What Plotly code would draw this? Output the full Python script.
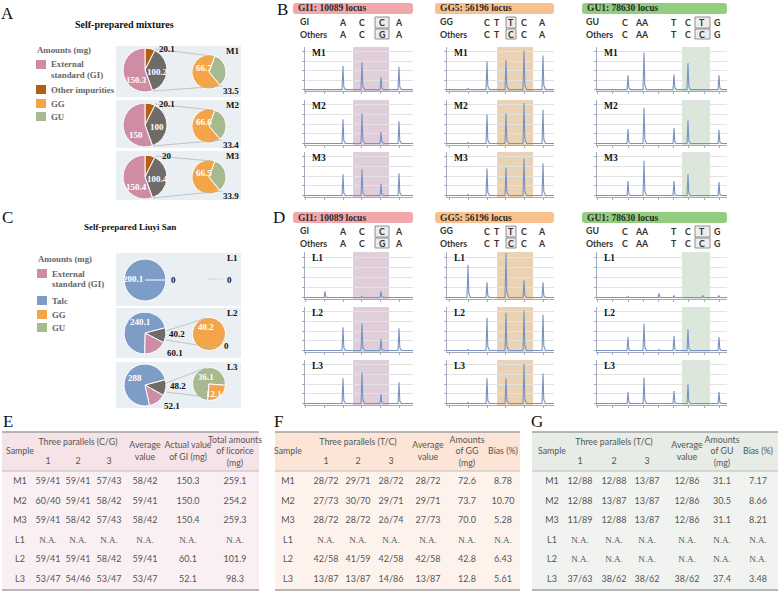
import plotly.graph_objects as go

W, H = 779, 591
SERIF = "Liberation Serif"
SANS = "Lato"

def px(x):
    return x / W

def py(y):
    return 1 - y / H

# ======================= DATA =======================
# Panel A: self-prepared mixtures, amounts (mg)
mix_names = ["M1", "M2", "M3"]
mix_gi = [150.3, 150, 150.4]
mix_licorice = [100.2, 100, 100.4]
mix_impurities = [20.1, 20.1, 20]
mix_gg = [66.7, 66.6, 66.5]
mix_gu = [33.5, 33.4, 33.9]

# Panel C: self-prepared Liuyi San, amounts (mg)
ly_names = ["L1", "L2", "L3"]
ly_talc = [200.1, 240.1, 288]
ly_licorice = [0, 40.2, 48.2]
ly_gi = [0, 60.1, 52.1]
ly_gg = [0, 40.2, 12.1]
ly_gu = [0, 0, 36.1]

# Panels B / D: chromatogram peaks (scan position, peak height RFU)
gi1_pos = [20, 38, 57, 76, 94]
gi1_heights = {
    "M1": [0, 2500, 2900, 1300, 2400],
    "M2": [0, 2500, 3100, 1200, 2300],
    "M3": [0, 2200, 2700, 1200, 2300],
    "L1": [600, 0, 100, 600, 0],
    "L2": [0, 2400, 2800, 1200, 2300],
    "L3": [0, 2600, 3200, 1000, 2200],
}
gg5_pos = [21, 40, 59, 77, 96]
gg5_heights = {
    "M1": [100, 3000, 3100, 4100, 3600],
    "M2": [100, 3000, 3100, 4200, 3500],
    "M3": [100, 2800, 2900, 3800, 3300],
    "L1": [3200, 1500, 4400, 1700, 1500],
    "L2": [100, 3400, 3900, 4100, 3700],
    "L3": [100, 2600, 2600, 4100, 3100],
}
gu1_pos = [31, 47, 62, 77, 91, 106, 122]
gu1_heights = {
    "M1": [1500, 3900, 0, 1600, 2800, 0, 1500],
    "M2": [1500, 3700, 0, 1600, 2400, 0, 1400],
    "M3": [1500, 3600, 0, 1500, 2200, 0, 1400],
    "L1": [100, 0, 400, 200, 0, 200, 200],
    "L2": [1400, 2800, 100, 1500, 2200, 0, 1400],
    "L3": [1200, 2700, 0, 1300, 2000, 0, 1200],
}
gi1_window = [48, 84]
gg5_window = [50, 86]
gu1_window = [85, 113]

gi1_seq_ref = ["A", "C", "C", "A"]
gi1_seq_oth = ["A", "C", "G", "A"]
gg5_seq_ref = ["C", "T", "T", "C", "A"]
gg5_seq_oth = ["C", "T", "C", "C", "A"]
gu1_seq_ref = ["C", "AA", "T", "C", "T", "G"]
gu1_seq_oth = ["C", "AA", "T", "C", "C", "G"]

# Tables E / F / G
table_samples = ["M1", "M2", "M3", "L1", "L2", "L3"]
e_p1 = ["59/41", "60/40", "59/41", "N.A.", "59/41", "53/47"]
e_p2 = ["59/41", "59/41", "58/42", "N.A.", "59/41", "54/46"]
e_p3 = ["57/43", "58/42", "57/43", "N.A.", "58/42", "53/47"]
e_avg = ["58/42", "59/41", "58/42", "N.A.", "59/41", "53/47"]
e_gi = ["150.3", "150.0", "150.4", "N.A.", "60.1", "52.1"]
e_total = ["259.1", "254.2", "259.3", "N.A.", "101.9", "98.3"]

f_p1 = ["28/72", "27/73", "28/72", "N.A.", "42/58", "13/87"]
f_p2 = ["29/71", "30/70", "28/72", "N.A.", "41/59", "13/87"]
f_p3 = ["28/72", "29/71", "26/74", "N.A.", "42/58", "14/86"]
f_avg = ["28/72", "29/71", "27/73", "N.A.", "42/58", "13/87"]
f_gg = ["72.6", "73.7", "70.0", "N.A.", "42.8", "12.8"]
f_bias = ["8.78", "10.70", "5.28", "N.A.", "6.43", "5.61"]

g_p1 = ["12/88", "12/88", "11/89", "N.A.", "N.A.", "37/63"]
g_p2 = ["12/88", "13/87", "12/88", "N.A.", "N.A.", "38/62"]
g_p3 = ["13/87", "13/87", "13/87", "N.A.", "N.A.", "38/62"]
g_avg = ["12/86", "12/86", "12/86", "N.A.", "N.A.", "38/62"]
g_gu = ["31.1", "30.5", "31.1", "N.A.", "N.A.", "37.4"]
g_bias = ["7.17", "8.66", "8.21", "N.A.", "N.A.", "3.48"]

# ======================= STYLE =======================
PINK = "#CE8CA5"
BROWN = "#B35E14"
GRAY = "#6F6B69"
ORANGE = "#F4A54A"
GREEN = "#A7B98F"
BLUE = "#7D9DC6"
BOXBG = "#EAEFF3"
TRACE = "#7893C2"
AXC = "#A3ABBA"

fig = go.Figure()
shapes, annotations, lay = [], [], {}


def txt(x, y, s, size=9, color="#222", family=SERIF, bold=False, xanchor="center"):
    if bold:
        s = "<b>" + s + "</b>"
    annotations.append(dict(x=px(x), y=py(y), xref="paper", yref="paper", text=s,
                            showarrow=False, xanchor=xanchor, yanchor="middle",
                            font=dict(size=size, color=color, family=family),
                            borderpad=0))


def rect(x0, y0, x1, y1, fill, line=None, lw=0, layer="below"):
    shapes.append(dict(type="rect", xref="paper", yref="paper", x0=px(x0), x1=px(x1),
                       y0=py(y1), y1=py(y0), fillcolor=fill, layer=layer,
                       line=dict(color=line if line else fill, width=lw)))


def rrect(x0, y0, x1, y1, r, fill):
    pts = [("M", x0 + r, y0), ("L", x1 - r, y0), ("Q", x1, y0, x1, y0 + r),
           ("L", x1, y1 - r), ("Q", x1, y1, x1 - r, y1), ("L", x0 + r, y1),
           ("Q", x0, y1, x0, y1 - r), ("L", x0, y0 + r), ("Q", x0, y0, x0 + r, y0)]
    path = ""
    for p in pts:
        cmd, vals = p[0], p[1:]
        coords = []
        for k in range(0, len(vals), 2):
            coords.append(f"{px(vals[k]):.5f},{py(vals[k + 1]):.5f}")
        path += cmd + " ".join(coords) + " "
    shapes.append(dict(type="path", xref="paper", yref="paper", path=path + "Z",
                       fillcolor=fill, line=dict(width=0), layer="below"))


def seg(x0, y0, x1, y1, color, w=1):
    shapes.append(dict(type="line", xref="paper", yref="paper", x0=px(x0), y0=py(y0),
                       x1=px(x1), y1=py(y1), line=dict(color=color, width=w)))


def pie(values, colors, cx, cy, r, rotation):
    fig.add_trace(go.Pie(values=values, marker=dict(colors=colors, line=dict(color="white", width=1)),
                         sort=False, direction="clockwise", rotation=rotation, textinfo="none",
                         hoverinfo="skip", showlegend=False,
                         domain=dict(x=[px(cx - r), px(cx + r)], y=[py(cy + r), py(cy - r)])))


# ======================= PANEL A =======================
txt(8, 13, "A", 17, "#111")
txt(124, 25, "Self-prepared mixtures", 10, "#111", bold=True)
txt(36, 50, "Amounts (mg)", 8.8, "#666", bold=True, xanchor="left")
for (y0, y1, c) in [(60, 69, PINK), (85, 94, BROWN), (99, 108, ORANGE), (112, 121, GREEN)]:
    rect(36, y0, 46, y1, c)
for (y, s) in [(64, "External"), (75, "standard (GI)"), (90, "Other impurities"), (104, "GG"), (117, "GU")]:
    txt(50, y, s, 8.8, "#666", bold=True, xanchor="left")

mix_box = [(46, 97), (100, 148), (151, 200)]
mix_big_cy = [70, 125, 177]
mix_small_cy = [72, 126, 177]
for i in range(3):
    b0, b1 = mix_box[i]
    rect(116, b0, 241, b1, BOXBG)
    cy, scy = mix_big_cy[i], mix_small_cy[i]
    seg(155, cy - 21, 212, scy - 16, "#B8B8B8", 0.8)
    seg(153, cy + 21, 222, scy + 14, "#B8B8B8", 0.8)
    pie([mix_impurities[i], mix_licorice[i], mix_gi[i]], [BROWN, GRAY, PINK], 145, cy, 22, 0)
    pie([mix_gu[i], mix_gg[i]], [GREEN, ORANGE], 209, scy, 17, 20)
    txt(233, b0 + 5, mix_names[i], 9, "#111", bold=True)
    txt(167, cy - 21, f"{mix_impurities[i]:g}", 9, "#111", bold=True)
    txt(157, cy + 2, f"{mix_licorice[i]:g}", 9, "white", bold=True)
    txt(136, cy + 10, f"{mix_gi[i]:g}", 9, "white", bold=True)
    txt(204, scy - 4, f"{mix_gg[i]:g}", 9, "white", bold=True)
    txt(231, scy + 19, f"{mix_gu[i]:g}", 9, "#111", bold=True)

# ======================= PANEL C =======================
txt(8, 218, "C", 17, "#111")
txt(130, 227, "Self-prepared Liuyi San", 9, "#111", bold=True)
txt(37, 259, "Amounts (mg)", 8.8, "#666", bold=True, xanchor="left")
for (y0, y1, c) in [(269, 278, PINK), (296, 305, BLUE), (310, 319, ORANGE), (323, 332, GREEN)]:
    rect(37, y0, 47, y1, c)
for (y, s) in [(274, "External"), (284, "standard (GI)"), (301, "Talc"), (315, "GG"), (328, "GU")]:
    txt(51, y, s, 8.8, "#666", bold=True, xanchor="left")

ly_box = [(253, 306), (308, 358), (362, 408)]
ly_big_cy = [280, 333, 385]
ly_small_cy = [280, 334, 384]
ly_small_rot = [0, 112, 185]
for i in range(3):
    b0, b1 = ly_box[i]
    rect(116, b0, 241, b1, BOXBG)
    cy, scy = ly_big_cy[i], ly_small_cy[i]
    txt(233, b0 + 5, ly_names[i], 9, "#111", bold=True)
    if i > 0:
        seg(166, cy - 2, 206, scy - 16, "#B8B8B8", 0.8)
        seg(166, cy + 7, 216, scy + 14, "#B8B8B8", 0.8)
    pie([ly_licorice[i], ly_gi[i], ly_talc[i]], [GRAY, PINK, BLUE], 145, cy, 21, 75 if i else 90)
    if ly_gg[i] + ly_gu[i] > 0:
        pie([ly_gu[i], ly_gg[i]], [GREEN, ORANGE], 209, scy, 16.5, ly_small_rot[i])

# L1 labels
seg(145, 280, 166, 280, "white", 1)
txt(133, 279, f"{ly_talc[0]:g}", 9, "white", bold=True)
txt(173, 280, f"{ly_gi[0]:g}", 9, "#111", bold=True)
seg(208, 279, 223, 279, "#D0D0D0", 0.8)
txt(229, 280, f"{ly_gg[0]:g}", 9, "#111", bold=True)
# L2 labels
txt(140, 322, f"{ly_talc[1]:g}", 9, "white", bold=True)
txt(177, 334, f"{ly_licorice[1]:g}", 9, "#111", bold=True)
txt(175, 353, f"{ly_gi[1]:g}", 9, "#111", bold=True)
txt(206, 327, f"{ly_gg[1]:g}", 9, "white", bold=True)
seg(222, 338, 225, 341, "#C8C8C8", 0.8)
txt(226, 346, f"{ly_gu[1]:g}", 9, "#111", bold=True)
# L3 labels
txt(135, 378, f"{ly_talc[2]:g}", 9, "white", bold=True)
txt(178, 386, f"{ly_licorice[2]:g}", 9, "#111", bold=True)
txt(172, 406, f"{ly_gi[2]:g}", 9, "#111", bold=True)
txt(206, 377, f"{ly_gu[2]:g}", 9, "white", bold=True)
txt(214, 394, f"{ly_gg[2]:g}", 9, "white", bold=True)

# ======================= PANELS B / D =======================
txt(282, 9, "B", 17, "#111")
txt(279, 218, "D", 17, "#111")

loci = [
    dict(pos=gi1_pos, data=gi1_heights, xr=(305, 413), span=108, win=gi1_window, shade="#DBC7D3",
         head=(293, 413, "#F1A7AB", "GI1: 10089 locus"), lab="GI", ref=gi1_seq_ref, oth=gi1_seq_oth,
         lx=299, sx=[343, 362, 382, 399], box=(2, 375, 389), tick0=0.6, dtick=18.7),
    dict(pos=gg5_pos, data=gg5_heights, xr=(447, 554), span=107, win=gg5_window, shade="#E5CBA7",
         head=(435, 554, "#F8C18E", "GG5: 56196 locus"), lab="GG", ref=gg5_seq_ref, oth=gg5_seq_oth,
         lx=439, sx=[487, 497, 511, 524, 542], box=(2, 506, 516), tick0=2.6, dtick=18.7),
    dict(pos=gu1_pos, data=gu1_heights, xr=(597, 727), span=130, win=gu1_window, shade="#D5E3D5",
         head=(582, 727, "#93CD7F", "GU1: 78630 locus"), lab="GU", ref=gu1_seq_ref, oth=gu1_seq_oth,
         lx=585, sx=[625, 642, 674, 688, 702, 717], box=(4, 695, 710), tick0=0.6, dtick=15.2),
]
panel_rows = [
    (0, ["M1", "M2", "M3"], [(47, 91), (100, 145), (152, 197)]),
    (209, ["L1", "L2", "L3"], [(252, 299), (307, 352), (360, 405)]),
]


def axkey(kind, n):
    return f"{kind}axis" if n == 1 else f"{kind}axis{n}"


def axref(kind, n):
    return kind if n == 1 else f"{kind}{n}"


n = 0
for dy, samples, rows in panel_rows:
    for lc in loci:
        hx0, hx1, hcol, htext = lc["head"]
        rrect(hx0, 3 + dy, hx1, 14 + dy, 3, hcol)
        txt(hx0 + 4, 8.5 + dy, htext, 9.5, "#2a2a2a", bold=True, xanchor="left")
        txt(lc["lx"], 22 + dy, lc["lab"], 8.8, "#333", SANS, bold=True, xanchor="left")
        txt(lc["lx"], 34 + dy, "Others", 8.8, "#333", SANS, bold=True, xanchor="left")
        bi, bx0, bx1 = lc["box"]
        rect(bx0, 17 + dy, bx1, 28 + dy, "#EDEDED", "#777", 0.8)
        rect(bx0, 29 + dy, bx1, 39 + dy, "#EDEDED", "#777", 0.8)
        for x, a, b in zip(lc["sx"], lc["ref"], lc["oth"]):
            txt(x, 22.5 + dy, a, 8.8, "#333", SANS, bold=True)
            txt(x, 34.5 + dy, b, 8.8, "#333", SANS, bold=True)
        for s, (t, bt) in zip(samples, rows):
            n += 1
            hts = lc["data"][s]
            xs, ys = [0], [0]
            for p, h in zip(lc["pos"], hts):
                xs += [p - 1.0, p, p + 0.8, p + 2.6]
                ys += [0, h, h * 0.12, 0]
            xs.append(lc["span"])
            ys.append(0)
            fig.add_trace(go.Scatter(x=xs, y=ys, mode="lines", line=dict(color=TRACE, width=1.1),
                                     xaxis=axref("x", n), yaxis=axref("y", n), hoverinfo="skip",
                                     showlegend=False))
            lay[axkey("x", n)] = dict(domain=[px(lc["xr"][0]), px(lc["xr"][1])], range=[0, lc["span"]],
                                      anchor=axref("y", n), showgrid=False, zeroline=False, showline=True,
                                      linecolor=AXC, linewidth=1, ticks="outside", ticklen=2, tickcolor=AXC,
                                      tick0=lc["tick0"], dtick=lc["dtick"], showticklabels=False,
                                      fixedrange=True)
            lay[axkey("y", n)] = dict(domain=[py(bt), py(t)], range=[-150, 4500], anchor=axref("x", n),
                                      showgrid=True, gridcolor="#E2E2E2", gridwidth=0.7, zeroline=False,
                                      showline=True, linecolor=AXC, linewidth=1, ticks="outside",
                                      ticklen=2, tickcolor=AXC, dtick=1000, showticklabels=False,
                                      fixedrange=True)
            shapes.append(dict(type="rect", xref=axref("x", n), yref=axref("y", n) + " domain",
                               x0=lc["win"][0], x1=lc["win"][1], y0=0, y1=1, fillcolor=lc["shade"],
                               line=dict(width=0), layer="below", opacity=0.85))
            txt(lc["xr"][0] + 6, t + 6, s, 9.5, "#111", bold=True, xanchor="left")

# ======================= TABLES =======================
txt(8, 421, "E", 17, "#111")
txt(278, 421, "F", 17, "#111")
txt(537, 421, "G", 17, "#111")

row_y = [482, 502, 521, 541, 560, 580]
tables = [
    dict(span=(0, 262), box=(2, 259), hbg="#F6E3E8", bbg="#FAF0F3",
         cols=[table_samples, e_p1, e_p2, e_p3, e_avg, e_gi, e_total],
         cx=[20, 48, 78, 109, 145, 188, 235],
         heads=[(20, 452, "Sample"), (78, 443, "Three parallels (C/G)"), (48, 462, "1"), (78, 462, "2"),
                (109, 462, "3"), (145, 452, "Average<br>value"), (188, 452, "Actual value<br>of GI (mg)"),
                (235, 452, "Total amounts<br>of licorice<br>(mg)")]),
    dict(span=(262, 522), box=(275, 520), hbg="#FCE5D6", bbg="#FEF3EC",
         cols=[table_samples, f_p1, f_p2, f_p3, f_avg, f_gg, f_bias],
         cx=[288, 326, 358, 391, 428, 467, 503],
         heads=[(288, 452, "Sample"), (358, 443, "Three parallels (T/C)"), (326, 462, "1"), (358, 462, "2"),
                (391, 462, "3"), (428, 452, "Average<br>value"), (467, 452, "Amounts<br>of GG<br>(mg)"),
                (503, 452, "Bias (%)")]),
    dict(span=(522, 779), box=(532, 778), hbg="#E8ECE6", bbg="#F1F3F0",
         cols=[table_samples, g_p1, g_p2, g_p3, g_avg, g_gu, g_bias],
         cx=[552, 580, 614, 647, 687, 722, 758],
         heads=[(552, 452, "Sample"), (614, 443, "Three parallels (T/C)"), (580, 462, "1"), (614, 462, "2"),
                (647, 462, "3"), (687, 452, "Average<br>value"), (722, 452, "Amounts<br>of GU<br>(mg)"),
                (758, 452, "Bias (%)")]),
]
for tb in tables:
    n += 1
    xr, yr = axref("x", n), axref("y", n)
    lay[axkey("x", n)] = dict(domain=[px(tb["span"][0]), px(tb["span"][1])], range=list(tb["span"]),
                              anchor=yr, visible=False, fixedrange=True)
    lay[axkey("y", n)] = dict(domain=[0, py(428)], range=[591, 428], anchor=xr, visible=False,
                              fixedrange=True)
    x0, x1 = tb["box"]
    for (ya, yb, c) in [(432, 471, tb["hbg"]), (471, 590, tb["bbg"])]:
        shapes.append(dict(type="rect", xref=xr, yref=yr, x0=x0, x1=x1, y0=ya, y1=yb, fillcolor=c,
                           line=dict(width=0), layer="below"))
    for (yl, w, c) in [(432, 1.6, "#A0A0A0"), (471, 1, "#BDBDBD"), (590, 1.6, "#A0A0A0")]:
        shapes.append(dict(type="line", xref=xr, yref=yr, x0=x0, x1=x1, y0=yl, y1=yl,
                           line=dict(color=c, width=w)))
    hx = [h[0] for h in tb["heads"]]
    hy = [h[1] for h in tb["heads"]]
    ht = [h[2] for h in tb["heads"]]
    fig.add_trace(go.Scatter(x=hx, y=hy, text=ht, mode="text", xaxis=xr, yaxis=yr, hoverinfo="skip",
                             showlegend=False, textfont=dict(family=SANS, size=8.8, color="#555")))
    bx, byy, bt, bf = [], [], [], []
    for col, cx in zip(tb["cols"], tb["cx"]):
        for v, ry in zip(col, row_y):
            bx.append(cx)
            byy.append(ry)
            bt.append(v)
            bf.append(SERIF if v == "N.A." else SANS)
    fig.add_trace(go.Scatter(x=bx, y=byy, text=bt, mode="text", xaxis=xr, yaxis=yr, hoverinfo="skip",
                             showlegend=False, textfont=dict(family=bf, size=9, color="#555")))

fig.update_layout(width=W, height=H, margin=dict(l=0, r=0, t=0, b=0), paper_bgcolor="white",
                  plot_bgcolor="rgba(0,0,0,0)", showlegend=False, shapes=shapes,
                  annotations=annotations, **lay)
fig.write_html("out.html")
